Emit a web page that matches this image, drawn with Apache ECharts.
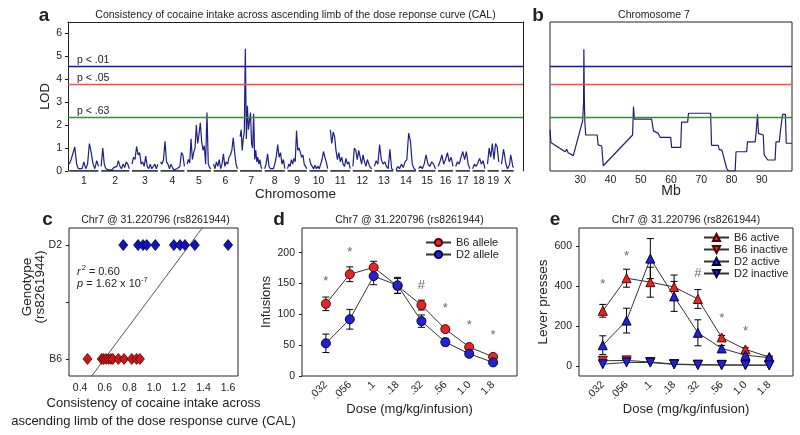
<!DOCTYPE html>
<html><head><meta charset="utf-8">
<script src="https://cdn.jsdelivr.net/npm/echarts@6/dist/echarts.min.js"></script>
<style>html,body{margin:0;padding:0;background:#fff}#c{width:800px;height:435px}</style>
</head><body><div id="c"></div>
<script>
const FONT = '"Liberation Sans", Arial, sans-serif';

// ---------- Panel a : genome scan ----------
const chromNames = ['1','2','3','4','5','6','7','8','9','10','11','12','13','14','15','16','17','18','19','X'];
const chromSlots = [96,93,86,80,80,80,74,69,66,63,68,65,65,68,59,53,51,45,42,45];
const genomeEnd = 1372;
const lodByChromosome = [
 [0.3,0.5,0.45,1.05,0.3,0.1,0.05,0.1,0.4,0.1,0.3,1.2,0.8,0.3,0.1,0.45,0.2],
 [0.2,1.0,0.3,0.1,0.05,0.05,0.1,0.05,0.15,0.1,0.2,0.45,0.2,0.1,0.3,0.15,0.4,0.3,0.1],
 [0.3,0.6,0.5,1.07,0.7,0.8,0.3,0.4,0.2,0.65,0.2,0.1,0.3,0.1,0.05,0.3,0.1,0.3],
 [0.4,0.3,0.5,1.3,0.4,0.3,0.1,0.3,0.15,0.05,0.05,0.1,0.05,0.2,0.8,0.7,0.2],
 [0.3,0.5,0.35,1.4,0.5,0.8,1.0,2.0,1.2,1.6,2.1,1.3,0.9,1.1,0.3,2.55,0.3,0.15,0.1],
 [0.3,0.1,0.4,0.2,0.5,0.1,0.3,0.75,0.2,0.4,0.3,0.6,0.7,0.9,1.45,0.8,0.3,0.1],
 [1.5,1.8,0.9,1.4,1.7,5.33,1.4,2.85,1.8,2.2,2.55,1.2,1.0,2.5,0.5,0.9,0.4,0.6,0.3,0.5,0.2,0.1],
 [0.1,0.3,0.75,0.2,0.1,0.05,0.1,0.3,0.6,1.15,0.6,0.8,0.3,0.5,0.1],
 [0.1,0.3,0.2,0.5,0.3,0.55,0.4,1.76,0.9,1.0,0.8,0.6,0.7,0.3,0.2,0.1],
 [0.55,0.3,0.2,0.1,0.25,0.1,0.2,0.1,0.3,0.5,0.85,0.6,0.4,0.1],
 [1.8,1.2,1.7,1.5,0.9,0.5,0.8,0.4,0.6,0.3,0.2,0.55,0.3,0.4,0.1],
 [0.2,1.0,0.9,0.5,0.9,0.6,0.3,0.7,0.4,0.2,0.5,0.3,0.15,0.1],
 [0.2,0.45,0.3,1.15,0.5,0.3,0.4,0.2,0.1,0.95,0.1,0.05],
 [0.05,0.2,0.1,0.3,0.15,0.4,0.5,1.65,1.3,0.3,0.1,0.05],
 [0.1,0.2,0.1,0.3,0.7,0.3,0.2,0.4,0.3,0.1],
 [0.2,0.4,0.7,0.3,0.5,0.8,0.4,0.6,0.2],
 [0.2,0.4,0.3,0.6,0.85,0.5,0.85,0.3,0.1],
 [0.1,0.3,0.2,0.35,0.55,0.3,0.45,0.1],
 [0.3,1.0,0.6,1.2,0.5,1.2,1.05,0.4],
 [0.3,0.6,0.95,0.7,0.4,0.2,0.1,0.2,0.3,0.7,0.5,0.2,0.15]
];
const lodTicks = [0,1,2,3,4,5,6];
const thresholdValues = [4.57, 3.77, 2.33];
const thresholdLabels = ['p < .01','p < .05','p < .63'];
const thresholdColors = ['#1010c8','#ff4a4a','#3a8a3a'];

// ---------- Panel b : chromosome 7 ----------
const chr7Profile = [
 [20,1.8],[20.3,1.24],[25.0,0.84],[25.5,0.95],[26.0,0.8],[27.7,0.67],[30.8,2.2],[31.1,3.0],[31.2,5.31],[31.35,3.17],[31.5,2.2],[31.8,1.57],
 [35.6,1.57],[35.9,1.14],[37.1,1.09],[37.6,0.23],[47.3,1.57],[47.6,2.81],[47.9,2.26],[53.6,2.26],[54.2,1.75],[55.8,1.64],[56.4,1.47],
 [59.9,1.47],[60.2,1.03],[63.2,1.03],[63.5,2.13],[65.5,2.13],[65.8,2.52],[73.1,2.52],[73.4,1.12],[75.6,1.12],[76.0,0.92],[76.8,0.92],
 [78.4,0.12],[79.0,0],[81.2,0],[81.5,0.84],[85.0,0.84],[85.3,1.27],[87.8,1.27],[88.1,1.62],[88.4,1.62],[88.6,2.47],[88.9,1.64],[89.3,1.57],
 [90.5,1.57],[90.8,0.7],[92.0,0.48],[94.4,0.48],[94.7,1.27],[95.8,1.27],[96.2,1.79],[96.6,1.79],[96.9,2.47],[97.8,2.47],[98.1,1.21],[100,1.21]
];
const mbTicks = [30,40,50,60,70,80,90];

// ---------- Panel c : genotype vs CAL ----------
const calD2 = [0.75,0.87,0.91,0.94,1.01,1.16,1.21,1.25,1.33,1.60];
const calB6 = [0.46,0.575,0.59,0.61,0.63,0.65,0.665,0.71,0.756,0.818,0.858,0.885];
const regSlope = 1.451, regIntercept = -0.867;
const calTicks = [0.4,0.6,0.8,1.0,1.2,1.4,1.6];
const genotypeLabels = ['B6','','D2'];

// ---------- Panel d : infusions ----------
const doseLabels = ['.032','.056','.1','.18','.32','.56','1.0','1.8'];
const infB6 = [117,165,176,146,115,76,47,31];
const infB6Err = [11,12,10,12,8,4,3,3];
const infD2 = [53,92,162,147,89,55,36,22];
const infD2Err = [15,16,14,13,10,6,3,3];
const infMarks = ['*','*','','','#','*','*','*'];
const infMarkY = [153,200,null,null,147,110,82,66];
const infTicks = [0,50,100,150,200];

// ---------- Panel e : lever presses ----------
const b6Active = [276,439,419,395,335,143,83,45];
const b6ActiveErr = [32,45,75,60,47,10,8,5];
const b6Inactive = [26,28,20,10,7,6,5,5];
const d2Active = [104,227,537,348,166,88,54,42];
const d2ActiveErr = [47,62,100,75,65,15,8,5];
const d2Inactive = [9,18,17,8,5,4,4,3];
const pressMarks = ['*','*','','','#','*','*',''];
const pressMarkY = [407,550,null,null,462,239,175,null];
const pressTicks = [0,200,400,600];

// ================= build =================
const chart = echarts.init(document.getElementById('c'), null, {renderer:'canvas'});
const TXT = '#222';
const lblStyle = (fs)=>({fontFamily:FONT, fontSize:fs, color:TXT});

const chromStarts = [];
let acc = 0;
chromSlots.forEach(w=>{chromStarts.push(acc); acc += w;});
const chromCenters = chromStarts.map((s,i)=>s + chromSlots[i]/2);

function gridBox(l,t,w,h,show){
  return {left:l, top:t, width:w, height:h, show:!!show, borderColor:'#222', borderWidth:1,
    containLabel:false, outerBoundsMode:'none'};
}
const grid = [
  gridBox(68,22,455,149,false),
  gridBox(550,22,242,149,true),
  gridBox(69,228,169,148,true),
  gridBox(302,228,215,148,true),
  gridBox(579,228,214,148,true)
];
const noLine = {show:false, onZero:false};
const shownLine = {show:true, onZero:false, lineStyle:{color:'#222', width:1}};
const nm = (fs, extra)=>Object.assign({fontFamily:FONT, fontSize:fs, color:TXT}, extra||{});
const xAxis = [
  {type:'value', gridIndex:0, min:0, max:genomeEnd, axisLine:noLine, axisTick:{show:false}, splitLine:{show:false},
   axisLabel:{...lblStyle(10.5), margin:5, hideOverlap:false, customValues:chromCenters,
     formatter:(v)=>{const i = chromCenters.findIndex(c=>Math.abs(c-v)<1e-6); return i>=0?chromNames[i]:'';}},
   name:'Chromosome', nameLocation:'middle', nameGap:16, nameMoveOverlap:false, nameTextStyle:nm(13.5)},
  {type:'value', gridIndex:0, position:'top', min:0, max:genomeEnd, axisLine:shownLine,
   axisTick:{show:false}, axisLabel:{show:false}, splitLine:{show:false}},
  {type:'value', gridIndex:1, min:20, max:100, axisLine:noLine, axisTick:{show:false}, splitLine:{show:false},
   axisLabel:{...lblStyle(10.5), margin:4, customValues:mbTicks, hideOverlap:false},
   name:'Mb', nameLocation:'middle', nameGap:13.5, nameMoveOverlap:false, nameTextStyle:nm(14)},
  {type:'value', gridIndex:2, min:0.31, max:1.68, axisLine:noLine, axisTick:{show:false}, splitLine:{show:false},
   axisLabel:{...lblStyle(10.5), margin:7, customValues:calTicks, hideOverlap:false, formatter:(v)=>v.toFixed(1)},
   name:'Consistency of cocaine intake across\nascending limb of the dose response curve (CAL)', nameLocation:'middle', nameGap:19,
   nameMoveOverlap:false, nameTextStyle:nm(13,{lineHeight:17.5})},
  {type:'value', gridIndex:3, min:-1, max:8, axisLine:noLine, axisTick:{show:false}, splitLine:{show:false},
   axisLabel:{...lblStyle(10.5), margin:7, rotate:45, customValues:[0,1,2,3,4,5,6,7], hideOverlap:false, formatter:(v)=>doseLabels[Math.round(v)]},
   name:'Dose (mg/kg/infusion)', nameLocation:'middle', nameGap:27, nameMoveOverlap:false, nameTextStyle:nm(13)},
  {type:'value', gridIndex:4, min:-1, max:8, axisLine:noLine, axisTick:{show:false}, splitLine:{show:false},
   axisLabel:{...lblStyle(10.5), margin:7, rotate:45, customValues:[0,1,2,3,4,5,6,7], hideOverlap:false, formatter:(v)=>doseLabels[Math.round(v)]},
   name:'Dose (mg/kg/infusion)', nameLocation:'middle', nameGap:27, nameMoveOverlap:false, nameTextStyle:nm(13)}
];
const tickOut = (vals)=>({show:true, inside:false, length:3, customValues:vals, lineStyle:{color:'#222'}});
const yAxis = [
  {type:'value', gridIndex:0, min:0, max:6.5, axisLine:shownLine, splitLine:{show:false},
   axisTick:tickOut(lodTicks), axisLabel:{...lblStyle(10.5), margin:6, customValues:lodTicks},
   name:'LOD', nameLocation:'middle', nameGap:16, nameMoveOverlap:false, nameTextStyle:nm(13)},
  {type:'value', gridIndex:0, position:'right', min:0, max:6.5, axisLine:shownLine,
   axisTick:{show:false}, axisLabel:{show:false}, splitLine:{show:false}},
  {type:'value', gridIndex:1, min:0, max:6.5, axisLine:noLine, axisTick:{show:false}, axisLabel:{show:false}, splitLine:{show:false}},
  {type:'value', gridIndex:2, min:-0.15, max:1.15, axisLine:noLine, splitLine:{show:false}, axisTick:tickOut([0,0.5,1]),
   axisLabel:{...lblStyle(10.5), margin:7, customValues:[0,0.5,1], formatter:(v)=>genotypeLabels[Math.round(v*2)]}},
  {type:'value', gridIndex:3, min:0, max:240, axisLine:noLine, splitLine:{show:false}, axisTick:tickOut(infTicks),
   axisLabel:{...lblStyle(10.5), margin:7, customValues:infTicks},
   name:'Infusions', nameLocation:'middle', nameGap:29, nameMoveOverlap:false, nameTextStyle:nm(13)},
  {type:'value', gridIndex:4, min:-50, max:690, axisLine:noLine, splitLine:{show:false}, axisTick:tickOut(pressTicks),
   axisLabel:{...lblStyle(10.5), margin:7, customValues:pressTicks},
   name:'Lever presses', nameLocation:'middle', nameGap:29, nameMoveOverlap:false, nameTextStyle:nm(13.5)}
];

const series = [];
// panel a traces
lodByChromosome.forEach((vals,i)=>{
  const s = chromStarts[i] + 4, e = chromStarts[i] + chromSlots[i] - 4;
  series.push({type:'line', xAxisIndex:0, yAxisIndex:0, silent:true, symbol:'none', z:3,
    data: vals.map((v,j)=>[s + (e-s)*j/(vals.length-1), v]),
    lineStyle:{color:'#1f1f88', width:1.2}});
  series.push({type:'line', xAxisIndex:0, yAxisIndex:0, silent:true, symbol:'none', z:4,
    data: [[s,0],[e,0]], lineStyle:{color:'#000', width:1.5}});
});
function thresholdMarkLine(withLabels){
  return {symbol:['none','none'], silent:true, animation:false,
    data: thresholdValues.map((v,i)=>({yAxis:v,
      lineStyle:{color:thresholdColors[i], width:1.3, type:'solid'},
      label: withLabels ? {show:true, formatter:thresholdLabels[i], position:'insideStartTop', distance:[9,1],
        color:TXT, fontFamily:FONT, fontSize:10.5} : {show:false}}))};
}
series.push({type:'line', xAxisIndex:0, yAxisIndex:0, data:[], symbol:'none', z:2, markLine:thresholdMarkLine(true)});
// panel b
series.push({type:'line', xAxisIndex:2, yAxisIndex:2, data:chr7Profile, symbol:'none', silent:true, z:3,
  lineStyle:{color:'#20206e', width:1.2}, markLine:thresholdMarkLine(false)});
// panel c
series.push({type:'line', xAxisIndex:3, yAxisIndex:3, symbol:'none', silent:true, z:2,
  data:[[0.31, regSlope*0.31+regIntercept],[1.68, regSlope*1.68+regIntercept]], lineStyle:{color:'#555', width:1}});
series.push({type:'scatter', xAxisIndex:3, yAxisIndex:3, symbol:'diamond', symbolSize:[9,11], z:3,
  data: calD2.map(v=>[v,1]), itemStyle:{color:'#1414b4', borderColor:'#00005a', borderWidth:0.8, opacity:1}});
series.push({type:'scatter', xAxisIndex:3, yAxisIndex:3, symbol:'diamond', symbolSize:[9,11], z:3,
  data: calB6.map(v=>[v,0]), itemStyle:{color:'#c81818', borderColor:'#5a0000', borderWidth:0.8, opacity:1}});

function errBars(xi, yi, vals, errs){
  return {type:'custom', xAxisIndex:xi, yAxisIndex:yi, silent:true, z:2, encode:{x:0, y:[1,2]},
    data: vals.map((v,i)=>[i, v-errs[i], v+errs[i]]),
    renderItem(params, api){
      const x = api.value(0);
      const lo = api.coord([x, api.value(1)]), hi = api.coord([x, api.value(2)]);
      const w = 3.5, st = {stroke:'#000', lineWidth:1};
      return {type:'group', children:[
        {type:'line', shape:{x1:lo[0],y1:lo[1],x2:hi[0],y2:hi[1]}, style:st},
        {type:'line', shape:{x1:lo[0]-w,y1:lo[1],x2:lo[0]+w,y2:lo[1]}, style:st},
        {type:'line', shape:{x1:hi[0]-w,y1:hi[1],x2:hi[0]+w,y2:hi[1]}, style:st}]};
    }};
}
function marks(xi, yi, ys, txt, fs){
  const data = [];
  ys.forEach((y,i)=>{ if(y!==null) data.push({value:[i,y], mark:txt[i]}); });
  return {type:'scatter', xAxisIndex:xi, yAxisIndex:yi, symbolSize:1, silent:true, z:5,
    itemStyle:{color:'rgba(0,0,0,0)'}, data,
    label:{show:true, position:'inside', formatter:(p)=>p.data.mark, color:'#444', fontFamily:FONT, fontSize:fs}};
}
const redFill = '#e02828', redEdge = '#5a0000', blueFill = '#2222d0', blueEdge = '#00004a';
// panel d
series.push(errBars(4,4,infB6,infB6Err));
series.push(errBars(4,4,infD2,infD2Err));
series.push({type:'line', name:'B6 allele', xAxisIndex:4, yAxisIndex:4, z:3, symbol:'circle', symbolSize:9,
  data: infB6.map((v,i)=>[i,v]), lineStyle:{color:'#333', width:1},
  itemStyle:{color:redFill, borderColor:redEdge, borderWidth:1}});
series.push({type:'line', name:'D2 allele', xAxisIndex:4, yAxisIndex:4, z:3, symbol:'circle', symbolSize:9,
  data: infD2.map((v,i)=>[i,v]), lineStyle:{color:'#333', width:1},
  itemStyle:{color:blueFill, borderColor:blueEdge, borderWidth:1}});
series.push(marks(4,4,infMarkY,infMarks,13));
// panel e
series.push(errBars(5,5,b6Active,b6ActiveErr));
series.push(errBars(5,5,d2Active,d2ActiveErr));
const lineE = (name, vals, fill, edge, down)=>({type:'line', name, xAxisIndex:5, yAxisIndex:5, z:3,
  symbol:'triangle', symbolSize:9, symbolRotate: down?180:0,
  data: vals.map((v,i)=>[i,v]), lineStyle:{color:'#333', width:1},
  itemStyle:{color:fill, borderColor:edge, borderWidth:1}});
series.push(lineE('B6 active', b6Active, redFill, redEdge, false));
series.push(lineE('B6 inactive', b6Inactive, redFill, redEdge, true));
series.push(lineE('D2 active', d2Active, blueFill, blueEdge, false));
series.push(lineE('D2 inactive', d2Inactive, blueFill, blueEdge, true));
series.push(marks(5,5,pressMarkY,pressMarks,13));

const legendBase = {orient:'vertical', itemWidth:25, itemHeight:9, itemGap:1, selectedMode:false,
  textStyle:{fontFamily:FONT, fontSize:11, color:TXT}, padding:0};
const legend = [
  {...legendBase, data:['B6 allele','D2 allele'], left:425, top:237},
  {...legendBase, data:['B6 active','B6 inactive','D2 active','D2 inactive'], left:703, top:232}
];

function txt(x,y,text,fs,opts){
  return Object.assign({type:'text', x, y, silent:true,
    style:{text, fontFamily:FONT, fontSize:fs, fill:TXT, align:'center', verticalAlign:'middle',
      textAlign:'center', textVerticalAlign:'middle', fontWeight:(opts&&opts.bold)?'bold':'normal',
      lineHeight:(opts&&opts.lh)||undefined}}, (opts&&opts.extra)||{});
}
const graphic = [
  txt(44,16,'a',19,{bold:true}), txt(538,16,'b',19,{bold:true}), txt(47.5,219.5,'c',19,{bold:true}),
  txt(279,220,'d',19,{bold:true}), txt(555,219.5,'e',19,{bold:true}),
  txt(295.5,15,'Consistency of cocaine intake across ascending limb of the dose reponse curve (CAL)',10.5),
  txt(654,15,'Chromosome 7',10.5),
  txt(155.5,220,'Chr7 @ 31.220796 (rs8261944)',10.5),
  txt(409.5,220,'Chr7 @ 31.220796 (rs8261944)',10.5),
  txt(686,220,'Chr7 @ 31.220796 (rs8261944)',10.5),
  txt(34,287,'Genotype\n(rs8261944)',13.5,{lh:13,extra:{rotation:Math.PI/2}}),
  {type:'text', x:77, y:264, silent:true, style:{text:'{i|r}{s|2}{n| = 0.60}', fill:TXT,
    rich:{i:{fontFamily:FONT, fontSize:11, fontStyle:'italic', lineHeight:13, verticalAlign:'bottom'},
          s:{fontFamily:FONT, fontSize:7.5, lineHeight:13, verticalAlign:'top', padding:[0,0,0,1]},
          n:{fontFamily:FONT, fontSize:11, lineHeight:13, verticalAlign:'bottom'}}}},
  {type:'text', x:77, y:276, silent:true, style:{text:'{i|p}{n| = 1.62 x 10}{s|-7}', fill:TXT,
    rich:{i:{fontFamily:FONT, fontSize:11, fontStyle:'italic', lineHeight:13, verticalAlign:'bottom'},
          s:{fontFamily:FONT, fontSize:7.5, lineHeight:13, verticalAlign:'top'},
          n:{fontFamily:FONT, fontSize:11, lineHeight:13, verticalAlign:'bottom'}}}}
];

chart.setOption({animation:false, backgroundColor:'#fff', grid, xAxis, yAxis, series, legend, graphic});
</script></body></html>
